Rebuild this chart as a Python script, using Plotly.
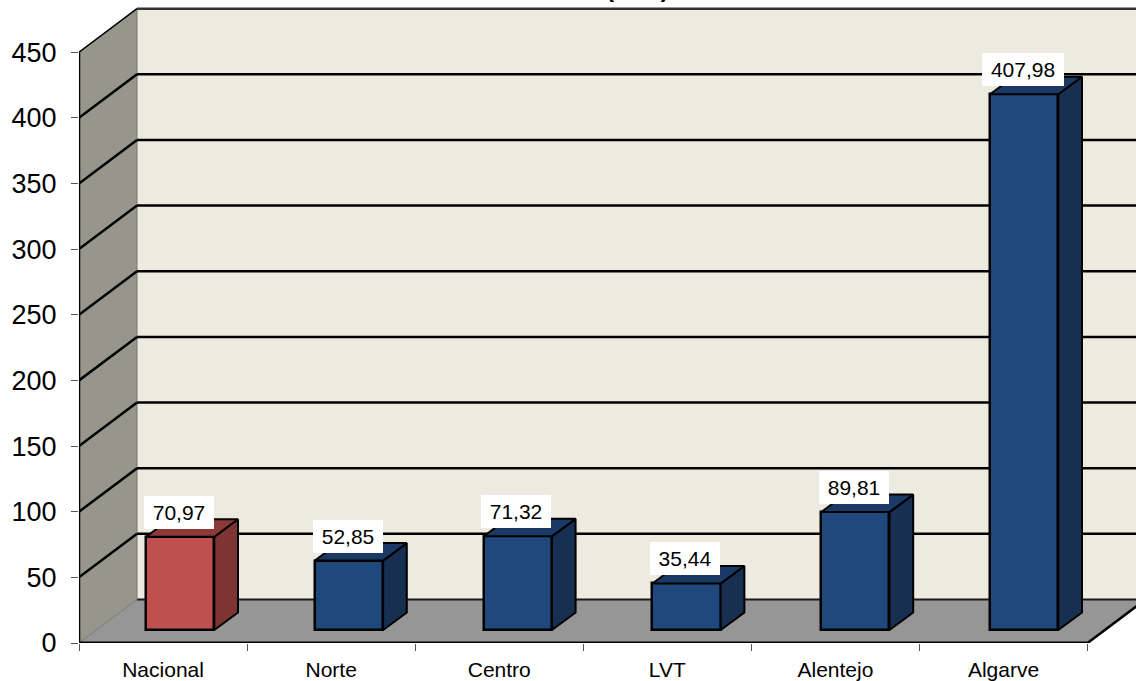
import plotly.graph_objects as go

categories = ["Nacional", "Norte", "Centro", "LVT", "Alentejo", "Algarve"]
values = [70.97, 52.85, 71.32, 35.44, 89.81, 407.98]
value_labels = ["70,97", "52,85", "71,32", "35,44", "89,81", "407,98"]
y_ticks = [0, 50, 100, 150, 200, 250, 300, 350, 400, 450]

FONT = "Liberation Sans, Arial, sans-serif"
W, H = 1136, 681
L, B = 79, 38
PX_X, PX_Y = 168.8, 1.313          # pixels per axis unit
X_MAX = (W - L) / PX_X
Y_MAX = (H - B) / PX_Y
TICK_STEP = 0.9958                 # category spacing of the axis ticks
FLOOR_END = 6 * TICK_STEP
WALL_DX, WALL_DY = 58 / PX_X, 43.5 / PX_Y
BAR_DX, BAR_DY = 23.7 / PX_X, 17.5 / PX_Y
BAR_BASE = 13 / PX_Y
BAR_LEFT, BAR_W = 0.397, 0.4045
TOP = y_ticks[-1]

RED, RED_SIDE, RED_TOP = "#C0504D", "#7E3432", "#8B3A38"
BLUE, BLUE_SIDE, BLUE_TOP = "#1F497D", "#172F50", "#1A3A65"
colors = [(RED, RED_SIDE, RED_TOP)] + [(BLUE, BLUE_SIDE, BLUE_TOP)] * 5


def poly(xs, ys, fill, color=None, width=0):
    path = "M " + " L ".join(f"{x},{y}" for x, y in zip(xs, ys)) + " Z"
    return dict(type="path", path=path, xref="x", yref="y", fillcolor=fill,
                line=dict(color=color or fill, width=width), layer="below")


def seg(x0, y0, x1, y1, color="#000000", width=2, layer="below"):
    return dict(type="line", x0=x0, y0=y0, x1=x1, y1=y1, xref="x", yref="y",
                line=dict(color=color, width=width), layer=layer)


shapes = [
    # back wall
    poly([WALL_DX, X_MAX + 1, X_MAX + 1, WALL_DX],
         [WALL_DY, WALL_DY, TOP + WALL_DY, TOP + WALL_DY], "#EDEBE0"),
    # left wall
    poly([0, WALL_DX, WALL_DX, 0], [0, WALL_DY, TOP + WALL_DY, TOP], "#96968C"),
    # floor
    poly([0, FLOOR_END, FLOOR_END + WALL_DX, WALL_DX], [0, 0, WALL_DY, WALL_DY], "#969696"),
    seg(WALL_DX, WALL_DY, X_MAX + 1, WALL_DY, "#1a1a1a", 2),
    seg(FLOOR_END, 0, FLOOR_END + WALL_DX, WALL_DY, "#000000", 2.5),
    seg(0, 0, WALL_DX, WALL_DY, "#77776f", 1),
    seg(WALL_DX, WALL_DY, WALL_DX, TOP + WALL_DY, "#77776f", 1),
]
for t in y_ticks[1:]:
    w = 2.5
    shapes.append(seg(0, t, WALL_DX, t + WALL_DY, "#000000", 1.5 if t == TOP else w))
    shapes.append(seg(WALL_DX, t + WALL_DY, X_MAX + 1, t + WALL_DY,
                      "#333333" if t == TOP else "#000000", w))
# front axis lines
shapes.append(seg(0, 0, FLOOR_END, 0, "#000000", 3, "above"))
shapes.append(seg(0, 0, 0, TOP, "#000000", 2.5, "above"))

fig = go.Figure()

centers = [i + BAR_LEFT + BAR_W / 2 for i in range(len(values))]
fig.add_trace(go.Bar(
    x=centers, y=values, base=[BAR_BASE] * len(values), width=BAR_W,
    marker=dict(color=[c[0] for c in colors], line=dict(color="#000000", width=2.5)),
    hoverinfo="skip", showlegend=False,
))

for i, v in enumerate(values):
    x0 = i + BAR_LEFT
    x1 = x0 + BAR_W
    top = BAR_BASE + v
    # side face
    fig.add_trace(go.Scatter(
        x=[x1, x1 + BAR_DX, x1 + BAR_DX, x1, x1],
        y=[BAR_BASE, BAR_BASE + BAR_DY, top + BAR_DY, top, BAR_BASE],
        mode="lines", fill="toself", fillcolor=colors[i][1],
        line=dict(color="#000000", width=2), hoverinfo="skip", showlegend=False,
    ))
    # top face
    fig.add_trace(go.Scatter(
        x=[x0, x1, x1 + BAR_DX, x0 + BAR_DX, x0],
        y=[top, top, top + BAR_DY, top + BAR_DY, top],
        mode="lines", fill="toself", fillcolor=colors[i][2],
        line=dict(color="#000000", width=2), hoverinfo="skip", showlegend=False,
    ))

annotations = [
    dict(x=centers[i] - 0.008, y=BAR_BASE + v + 8 / PX_Y, text=value_labels[i],
         xref="x", yref="y", xanchor="center", yanchor="bottom", showarrow=False,
         bgcolor="#FFFFFF", borderpad=4, borderwidth=0,
         width=62 if len(value_labels[i]) == 5 else 74, height=25, align="center",
         font=dict(family=FONT, size=21, color="#000000"))
    for i, v in enumerate(values)
]
annotations.append(dict(
    x=(637 - L) / PX_X, y=Y_MAX, xref="x", yref="y", xanchor="center", yanchor="bottom",
    yshift=-4, showarrow=False,
    text="<b>(\u00a0\u00a0\u00a0\u00a0\u00a0\u00a0\u00a0)</b>",
    font=dict(family=FONT, size=24, color="#000000"),
))

fig.update_layout(
    width=W, height=H,
    margin=dict(l=L, r=0, t=0, b=B, pad=0),
    paper_bgcolor="#FFFFFF", plot_bgcolor="rgba(0,0,0,0)",
    shapes=shapes, annotations=annotations,
    showlegend=False, hovermode=False,
    bargap=0,
    font=dict(family=FONT, color="#000000"),
    xaxis=dict(
        automargin=False,
        range=[0, X_MAX], showgrid=False, zeroline=False,
        showline=False,
        tickmode="array",
        tickvals=[(i + 0.5) * TICK_STEP for i in range(len(categories))],
        ticktext=categories, ticks="", ticklabelstandoff=12,
        tickfont=dict(family=FONT, size=21, color="#000000"),
        minor=dict(tickmode="array", tickvals=[i * TICK_STEP for i in range(len(categories) + 1)],
                   ticks="outside", ticklen=7, tickwidth=1, tickcolor="#555555", showgrid=False),
    ),
    yaxis=dict(
        automargin=False,
        range=[0, Y_MAX], showgrid=False, zeroline=False,
        showline=False,
        tickmode="array", tickvals=y_ticks, ticktext=[str(t) for t in y_ticks],
        ticks="outside", ticklen=7, tickwidth=1, tickcolor="#555555",
        ticklabelstandoff=9,
        tickfont=dict(family=FONT, size=27, color="#000000"),
    ),
)

fig.write_html("out.html", config={"displayModeBar": False},
               post_script="document.body.style.margin='0';document.body.style.overflow='hidden';")
